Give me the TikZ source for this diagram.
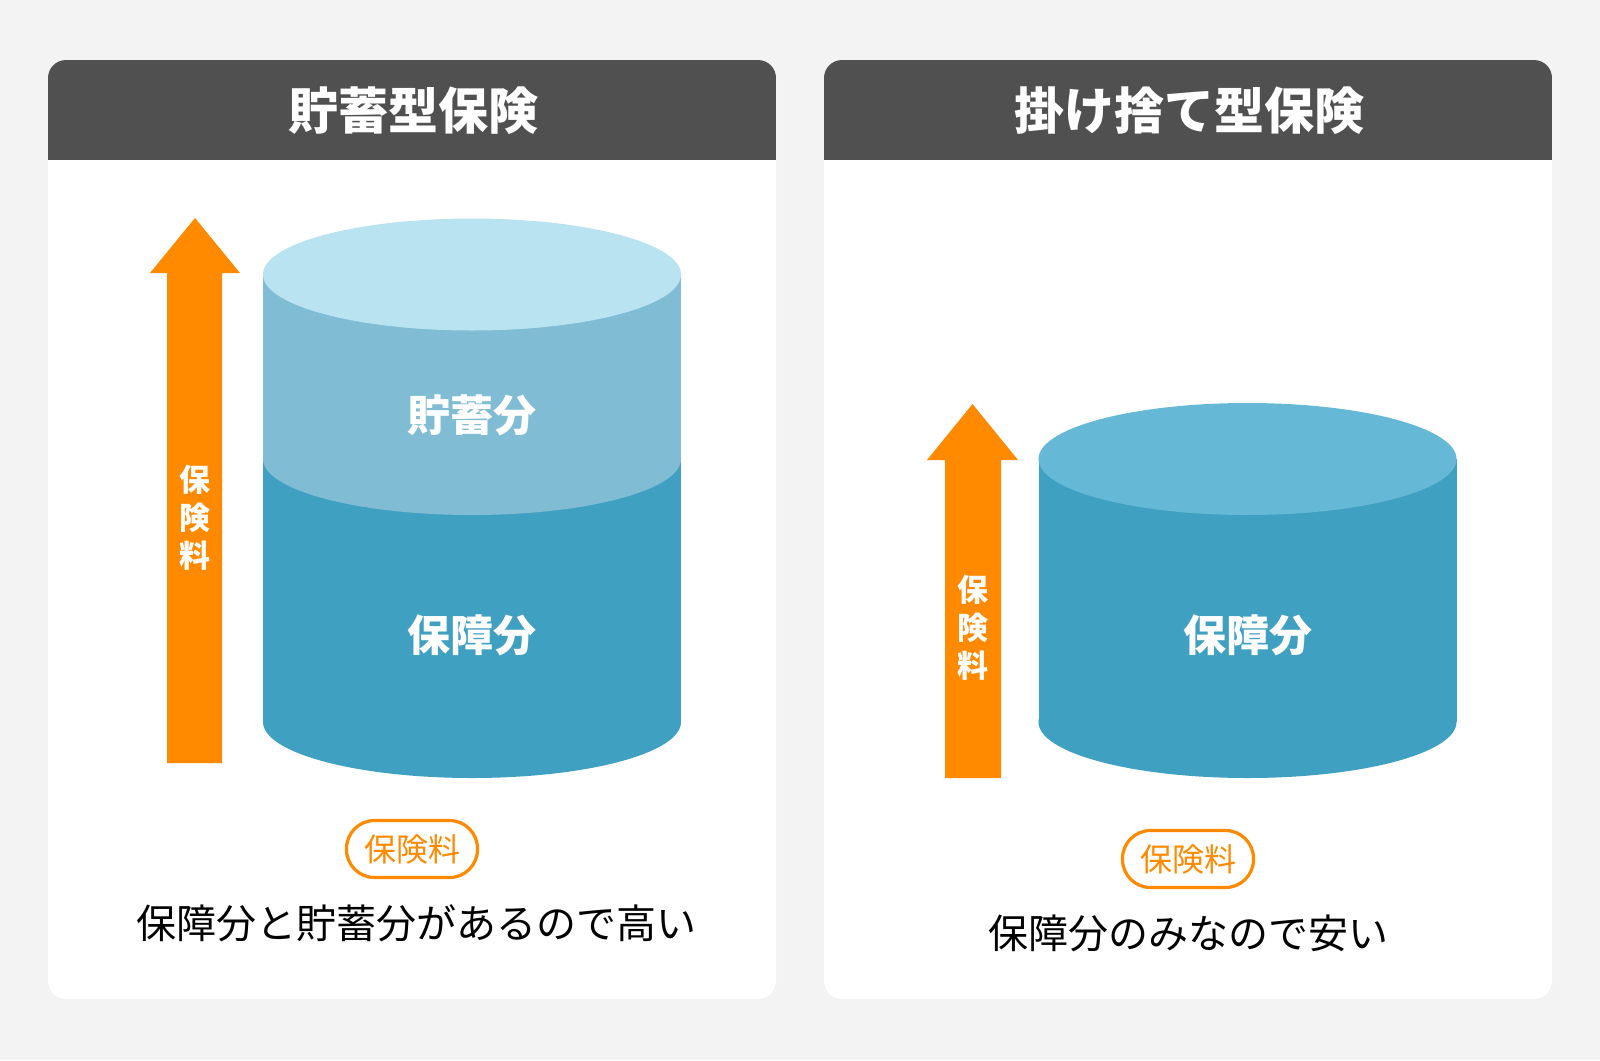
\documentclass[tikz,border=0pt]{standalone}
\usepackage{fontspec}
\setmainfont{Noto Sans CJK JP}
\definecolor{bg}{HTML}{F3F3F3}
\definecolor{hdr}{HTML}{505050}
\definecolor{org}{HTML}{FF8A00}
\definecolor{topc}{HTML}{BAE3F1}
\definecolor{savc}{HTML}{80BDD4}
\definecolor{proc}{HTML}{40A0C2}
\definecolor{toprc}{HTML}{66B9D6}
\tikzset{
  panel/.style={fill=white, rounded corners=9pt},
  hdrtext/.style={text=white, font=\fontsize{25}{30}\selectfont\bfseries},
  cyltext/.style={text=white, font=\fontsize{21.5}{26}\selectfont\bfseries},
  arrtext/.style={text=white, align=center, font=\fontsize{15.5}{19}\selectfont\bfseries},
  pill/.style={draw=org, line width=1.6pt, rounded corners=14pt, text=org,
    minimum width=65.5pt, minimum height=28.5pt, inner sep=0pt,
    font=\fontsize{16}{19}\selectfont},
  caption/.style={text=black, font=\fontsize{20}{24}\selectfont},
}
\begin{document}
\begin{tikzpicture}[x=0.5pt,y=-0.5pt]
\fill[bg] (0,0) rectangle (1600,1060);
\useasboundingbox (0,0) rectangle (1600,1060);
% ---------- left panel ----------
\fill[panel] (48,60) rectangle (776,999);
\begin{scope}
  \clip[rounded corners=9pt] (48,60) rectangle (776,999);
  \fill[hdr] (48,60) rectangle (776,160);
\end{scope}
\node[hdrtext] (h1) at (413,111) {貯蓄型保険};
% cylinder left
\fill[proc] (472,722) ellipse [x radius=209, y radius=56];
\fill[proc] (263,459) rectangle (681,722);
\fill[savc] (472,459) ellipse [x radius=209, y radius=56];
\fill[savc] (263,274.5) rectangle (681,459);
\fill[topc] (472,274.5) ellipse [x radius=209, y radius=56];
\node[cyltext] (sav1) at (472,415) {貯蓄分};
\node[cyltext] (pro1) at (472,635) {保障分};
% arrow left
\fill[org] (167,763) -- (167,273) -- (150,273) -- (195,218) -- (240,273) -- (222,273) -- (222,763) -- cycle;
\node[arrtext] (a1) at (194.5,518) {保\\険\\料};
% pill and caption left
\node[pill] (p1) at (412,849) {保険料};
\node[caption] (c1) at (416,923) {保障分と貯蓄分があるので高い};
% ---------- right panel ----------
\fill[panel] (824,60) rectangle (1552,999);
\begin{scope}
  \clip[rounded corners=9pt] (824,60) rectangle (1552,999);
  \fill[hdr] (824,60) rectangle (1552,160);
\end{scope}
\node[hdrtext] (h2) at (1189,111) {掛け捨て型保険};
% cylinder right
\fill[proc] (1247.5,722) ellipse [x radius=209, y radius=56];
\fill[proc] (1038.5,459) rectangle (1456.5,722);
\fill[toprc] (1247.5,459) ellipse [x radius=209, y radius=56];
\node[cyltext] (pro2) at (1247.5,635) {保障分};
% arrow right
\fill[org] (945,778) -- (945,460) -- (927,460) -- (972.5,404) -- (1018,460) -- (1001,460) -- (1001,778) -- cycle;
\node[arrtext] (a2) at (973,628) {保\\険\\料};
% pill and caption right
\node[pill] (p2) at (1188,859) {保険料};
\node[caption] (c2) at (1188,933) {保障分のみなので安い};
\end{tikzpicture}
\end{document}
